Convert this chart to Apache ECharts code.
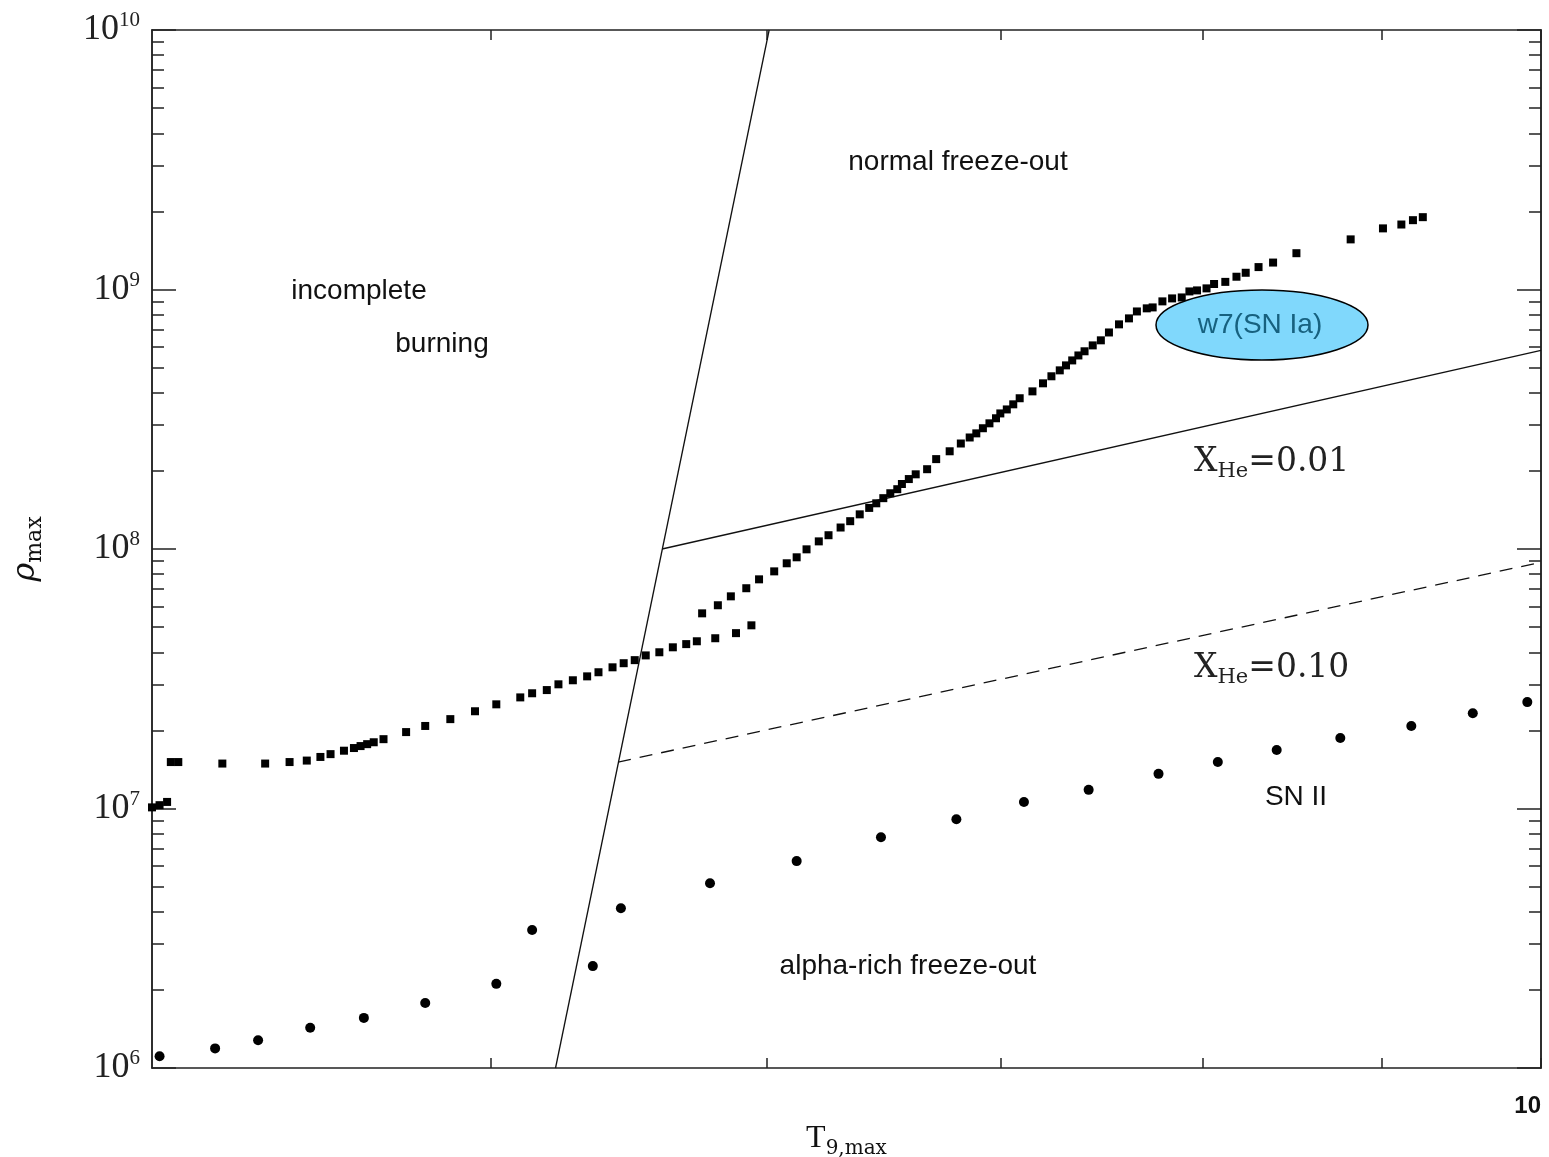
<!DOCTYPE html>
<html>
<head>
<meta charset="utf-8">
<script src="https://cdn.jsdelivr.net/npm/echarts@6/dist/echarts.min.js"></script>
<style>
html, body { margin: 0; padding: 0; background: #fff; }
#chart { width: 1549px; height: 1157px; }
</style>
</head>
<body>
<div id="chart"></div>
<script>
// w7 (SN Ia) trajectory, squares
var w7T = [4.00, 4.02, 4.04, 4.05, 4.07, 4.19, 4.31, 4.38, 4.43, 4.47,
  4.50, 4.54, 4.57, 4.59, 4.61, 4.63, 4.66, 4.73, 4.79, 4.87,
  4.95, 5.02, 5.10, 5.14, 5.19, 5.23, 5.28, 5.33, 5.37, 5.42,
  5.46, 5.50, 5.54, 5.59, 5.64, 5.69, 5.73, 5.80, 5.88, 5.94,
  5.75, 5.81, 5.86, 5.92, 5.97, 6.03, 6.08, 6.12, 6.16, 6.21,
  6.25, 6.30, 6.34, 6.38, 6.42, 6.45, 6.48, 6.51, 6.54, 6.56,
  6.59, 6.62, 6.67, 6.71, 6.77, 6.82, 6.86, 6.89, 6.92, 6.95,
  6.98, 7.00, 7.03, 7.06, 7.09, 7.15, 7.20, 7.24, 7.28, 7.31,
  7.34, 7.37, 7.40, 7.44, 7.48, 7.52, 7.57, 7.62, 7.66, 7.71,
  7.74, 7.79, 7.84, 7.89, 7.93, 7.97, 8.02, 8.06, 8.12, 8.18,
  8.23, 8.30, 8.38, 8.51, 8.82, 9.01, 9.12, 9.19, 9.25];
var w7Rho = [1.01e7, 1.03e7, 1.06e7, 1.51e7, 1.51e7, 1.49e7, 1.49e7, 1.51e7, 1.53e7, 1.58e7,
  1.62e7, 1.67e7, 1.71e7, 1.74e7, 1.77e7, 1.80e7, 1.85e7, 1.97e7, 2.08e7, 2.21e7,
  2.37e7, 2.52e7, 2.68e7, 2.78e7, 2.86e7, 3.01e7, 3.12e7, 3.23e7, 3.35e7, 3.50e7,
  3.63e7, 3.73e7, 3.89e7, 4.00e7, 4.18e7, 4.30e7, 4.41e7, 4.53e7, 4.74e7, 5.08e7,
  5.65e7, 6.07e7, 6.57e7, 7.06e7, 7.64e7, 8.20e7, 8.81e7, 9.29e7, 9.97e7, 1.07e8,
  1.13e8, 1.21e8, 1.28e8, 1.36e8, 1.44e8, 1.50e8, 1.57e8, 1.64e8, 1.70e8, 1.78e8,
  1.86e8, 1.94e8, 2.03e8, 2.22e8, 2.38e8, 2.55e8, 2.69e8, 2.79e8, 2.92e8, 3.05e8,
  3.19e8, 3.33e8, 3.45e8, 3.61e8, 3.81e8, 4.05e8, 4.35e8, 4.63e8, 4.88e8, 5.10e8,
  5.33e8, 5.57e8, 5.78e8, 6.09e8, 6.37e8, 6.83e8, 7.34e8, 7.74e8, 8.23e8, 8.46e8,
  8.53e8, 9.00e8, 9.24e8, 9.32e8, 9.83e8, 9.92e8, 1.01e9, 1.05e9, 1.07e9, 1.12e9,
  1.16e9, 1.22e9, 1.27e9, 1.38e9, 1.56e9, 1.72e9, 1.78e9, 1.85e9, 1.90e9];

// SN II trajectory, dots
var sn2T = [4.02, 4.17, 4.29, 4.44, 4.60, 4.79, 5.02, 5.14, 5.35, 5.45, 5.78, 6.12,
  6.47, 6.80, 7.11, 7.42, 7.77, 8.08, 8.40, 8.76, 9.18, 9.56, 9.91];
var sn2Rho = [1.11e6, 1.19e6, 1.28e6, 1.43e6, 1.56e6, 1.78e6, 2.11e6, 3.40e6, 2.47e6, 4.13e6, 5.15e6, 6.27e6,
  7.75e6, 9.09e6, 1.06e7, 1.18e7, 1.36e7, 1.51e7, 1.68e7, 1.87e7, 2.08e7, 2.33e7, 2.57e7];

// region boundaries
var burnT = [5.22, 6.01];
var burnRho = [1e6, 1e10];
var he001T = [5.60, 10];
var he001Rho = [1e8, 5.83e8];
var he010T = [5.44, 10];
var he010Rho = [1.51e7, 8.89e7];

// ticks
var xTicks = [5, 6, 7, 8, 9, 10];
var xLabels = [10];
var yMajor = [1e6, 1e7, 1e8, 1e9, 1e10];
var yMinor = [2e6, 3e6, 4e6, 5e6, 6e6, 7e6, 8e6, 9e6,
  2e7, 3e7, 4e7, 5e7, 6e7, 7e7, 8e7, 9e7,
  2e8, 3e8, 4e8, 5e8, 6e8, 7e8, 8e8, 9e8,
  2e9, 3e9, 4e9, 5e9, 6e9, 7e9, 8e9, 9e9];

function pairs(xs, ys) {
  return xs.map(function (x, i) { return [x, ys[i]]; });
}

var AX = '#222';
var SERIF = 'Liberation Serif';
var SANS = 'Liberation Sans';

function xAxisCfg(pos, showLabel) {
  return {
    type: 'log', logBase: 10, min: 4, max: 10, position: pos,
    axisLine: { show: true, onZero: false, lineStyle: { color: AX, width: 1.5 } },
    axisTick: { show: true, inside: true, length: 10, customValues: xTicks, lineStyle: { color: AX, width: 1.5 } },
    axisLabel: showLabel ? {
      customValues: xLabels, margin: 26, align: 'right',
      formatter: function (v) { return String(Math.round(v)); },
      fontFamily: SANS, fontWeight: 'bold', fontSize: 24, color: '#111'
    } : { show: false },
    splitLine: { show: false }
  };
}

function yAxisCfg(pos, ticks, len, showLabel) {
  var cfg = {
    type: 'log', logBase: 10, min: 1e6, max: 1e10, position: pos,
    axisLine: { show: true, onZero: false, lineStyle: { color: AX, width: 1.5 } },
    axisTick: { show: true, inside: true, length: len, customValues: ticks, lineStyle: { color: AX, width: 1.5 } },
    axisLabel: { show: false },
    splitLine: { show: false }
  };
  if (showLabel) {
    cfg.axisLabel = {
      customValues: yMajor, margin: 12,
      formatter: function (v) { return '{b|10}{s|' + Math.round(Math.log10(v)) + '}'; },
      rich: {
        b: { fontFamily: SERIF, fontSize: 36, color: '#222', lineHeight: 40 },
        s: { fontFamily: SERIF, fontSize: 21, color: '#222', verticalAlign: 'top', lineHeight: 20 }
      }
    };
  }
  return cfg;
}

var chart = echarts.init(document.getElementById('chart'));

var yMain = yAxisCfg('left', yMajor, 24, true);
yMain.name = '{r|ρ}{m|max}';
yMain.nameLocation = 'middle';
yMain.nameGap = 106;
yMain.nameTextStyle = {
  rich: {
    r: { fontFamily: 'DejaVu Serif', fontStyle: 'italic', fontSize: 32, color: '#111', lineHeight: 40 },
    m: { fontFamily: 'DejaVu Serif', fontSize: 22, color: '#111', verticalAlign: 'bottom', lineHeight: 22 }
  }
};

var xMain = xAxisCfg('bottom', true);
xMain.name = '{t|T}{s|9,max}';
xMain.nameLocation = 'middle';
xMain.nameGap = 48;
xMain.nameTextStyle = {
  rich: {
    t: { fontFamily: SERIF, fontSize: 32, color: '#111', lineHeight: 40 },
    s: { fontFamily: 'DejaVu Serif', fontSize: 20, color: '#111', verticalAlign: 'bottom', lineHeight: 20 }
  }
};

var lineStyle = { color: '#111', width: 1.3 };

chart.setOption({
  animation: false,
  backgroundColor: '#fff',
  grid: { left: 152, right: 8, top: 30, bottom: 89, containLabel: false, outerBoundsMode: 'none' },
  xAxis: [xMain, xAxisCfg('top', false)],
  yAxis: [
    yMain,
    yAxisCfg('left', yMinor, 12, false),
    yAxisCfg('right', yMajor, 24, false),
    yAxisCfg('right', yMinor, 12, false)
  ],
  series: [
    { type: 'line', data: pairs(burnT, burnRho), symbol: 'none', lineStyle: lineStyle, z: 1 },
    { type: 'line', data: pairs(he001T, he001Rho), symbol: 'none', lineStyle: lineStyle, z: 1 },
    { type: 'line', data: pairs(he010T, he010Rho), symbol: 'none',
      lineStyle: { color: '#111', width: 1.3, type: [13, 9] }, z: 1 },
    { name: 'w7', type: 'scatter', data: pairs(w7T, w7Rho), symbol: 'rect', symbolSize: 8,
      itemStyle: { color: '#000', opacity: 1 }, z: 3 },
    { name: 'SN II', type: 'scatter', data: pairs(sn2T, sn2Rho), symbol: 'circle', symbolSize: 10,
      itemStyle: { color: '#000', opacity: 1 }, z: 3 }
  ],
  graphic: [
    { type: 'ellipse', shape: { cx: 1262, cy: 325, rx: 106, ry: 35 }, z: 10,
      style: { fill: '#80d8fc', stroke: '#000', lineWidth: 1.5 } },
    { type: 'text', x: 1260, y: 325, z: 11,
      style: { text: 'w7(SN Ia)', font: '28px "Liberation Sans"', fill: '#17617f', align: 'center', verticalAlign: 'middle' } },
    { type: 'text', x: 958, y: 162, z: 11,
      style: { text: 'normal freeze-out', font: '28px "Liberation Sans"', fill: '#111', align: 'center', verticalAlign: 'middle' } },
    { type: 'text', x: 359, y: 291, z: 11,
      style: { text: 'incomplete', font: '28px "Liberation Sans"', fill: '#111', align: 'center', verticalAlign: 'middle' } },
    { type: 'text', x: 442, y: 344, z: 11,
      style: { text: 'burning', font: '28px "Liberation Sans"', fill: '#111', align: 'center', verticalAlign: 'middle' } },
    { type: 'text', x: 908, y: 966, z: 11,
      style: { text: 'alpha-rich freeze-out', font: '28px "Liberation Sans"', fill: '#111', align: 'center', verticalAlign: 'middle' } },
    { type: 'text', x: 1296, y: 797, z: 11,
      style: { text: 'SN II', font: '28px "Liberation Sans"', fill: '#111', align: 'center', verticalAlign: 'middle' } },
    { type: 'text', x: 1194, y: 462, z: 11,
      style: {
        text: '{b|X}{s|He}{b|=0.01}', align: 'left', verticalAlign: 'middle',
        rich: {
          b: { fontFamily: 'DejaVu Serif', fontSize: 33, fill: '#222', lineHeight: 40 },
          s: { fontFamily: 'DejaVu Serif', fontSize: 21, fill: '#222', verticalAlign: 'bottom', lineHeight: 20 }
        }
      } },
    { type: 'text', x: 1194, y: 668, z: 11,
      style: {
        text: '{b|X}{s|He}{b|=0.10}', align: 'left', verticalAlign: 'middle',
        rich: {
          b: { fontFamily: 'DejaVu Serif', fontSize: 33, fill: '#222', lineHeight: 40 },
          s: { fontFamily: 'DejaVu Serif', fontSize: 21, fill: '#222', verticalAlign: 'bottom', lineHeight: 20 }
        }
      } }
  ]
});
</script>
</body>
</html>
